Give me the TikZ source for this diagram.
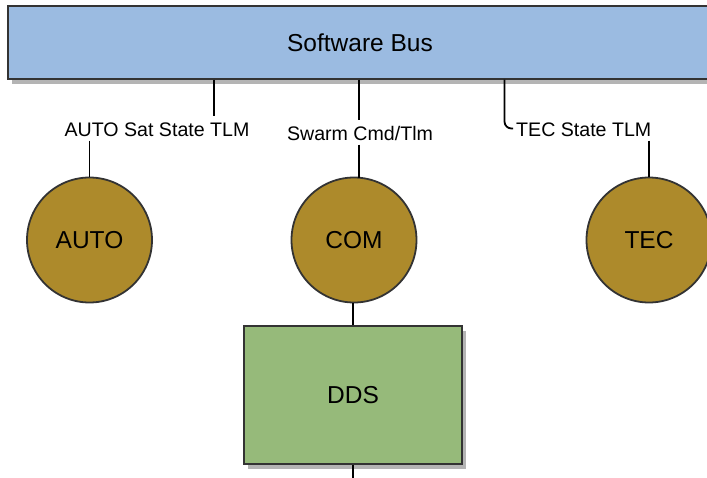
\documentclass[tikz,border=0pt]{standalone}
\usepackage{fontspec}
\setmainfont{Liberation Sans}
\usetikzlibrary{shadows}
\definecolor{busblue}{HTML}{9BBBE1}
\definecolor{appgold}{HTML}{AD8A2B}
\definecolor{ddsgreen}{HTML}{96BA7A}
\definecolor{edgegray}{HTML}{333333}
\definecolor{shadegray}{HTML}{B4B4B4}
\tikzset{
  boxshade/.style={drop shadow={shadow xshift=4pt, shadow yshift=-5pt, fill=shadegray, opacity=1}},
  busbox/.style={draw=edgegray, fill=busblue, line width=1.3pt, rectangle,
    minimum width=704pt, minimum height=73pt, inner sep=0pt,
    font=\fontsize{24.5}{28}\selectfont, boxshade},
  app/.style={circle, draw=edgegray, fill=appgold, line width=1.8pt,
    minimum size=125pt, inner sep=0pt, font=\fontsize{24.5}{28}\selectfont},
  ddsbox/.style={draw=edgegray, fill=ddsgreen, line width=1.3pt, rectangle,
    minimum width=218pt, minimum height=138pt, inner sep=0pt,
    font=\fontsize{24.5}{28}\selectfont, boxshade},
  msg/.style={anchor=base, inner xsep=3pt, inner ysep=0pt,
    text height=19.5pt, text depth=4.5pt, font=\fontsize{19.6}{22}\selectfont},
  wire/.style={draw=black, line width=1.8pt}
}
\begin{document}
\begin{tikzpicture}[x=1pt, y=1pt]
  \useasboundingbox (0,0) rectangle (707,-477);
  \clip (0,0) rectangle (707,-477);

  % bus and applications
  \node[busbox] (bus) at (360,-42.5) {Software Bus};
  \node[app] (auto) at (89.5,-240) {AUTO};
  \node[app] (com) at (354,-240) {COM};
  \node[app] (tec) at (649,-240) {TEC};
  \node[ddsbox] (dds) at (353,-395) {DDS};
  \coordinate (ddsout) at (353,-480);

  % message labels
  \node[msg] (autoL) at (157,-136) {AUTO Sat State TLM};
  \node[msg] (comL) at (360,-140) {Swarm Cmd/Tlm};
  \node[msg, anchor=base west] (tecL) at (513,-136) {TEC State TLM};

  % connections to the bus
  \draw[wire] (bus.south -| 214,0) -- (autoL.north -| 214,0);
  \draw[wire] (autoL.south -| auto.north) -- (auto.north);
  \draw[wire] (bus.south -| 359,0) -- (comL.north -| 359,0);
  \draw[wire] (comL.south -| 359,0) -- (359,-178.2);
  \draw[wire, rounded corners=7pt] (bus.south -| 504.5,0) |- (tecL.west);
  \draw[wire] (tecL.south -| tec.north) -- (tec.north);

  % COM to DDS
  \draw[wire] (com.south -| dds.north) -- (dds.north);
  \draw[wire] (dds.south) -- (ddsout);
\end{tikzpicture}
\end{document}
